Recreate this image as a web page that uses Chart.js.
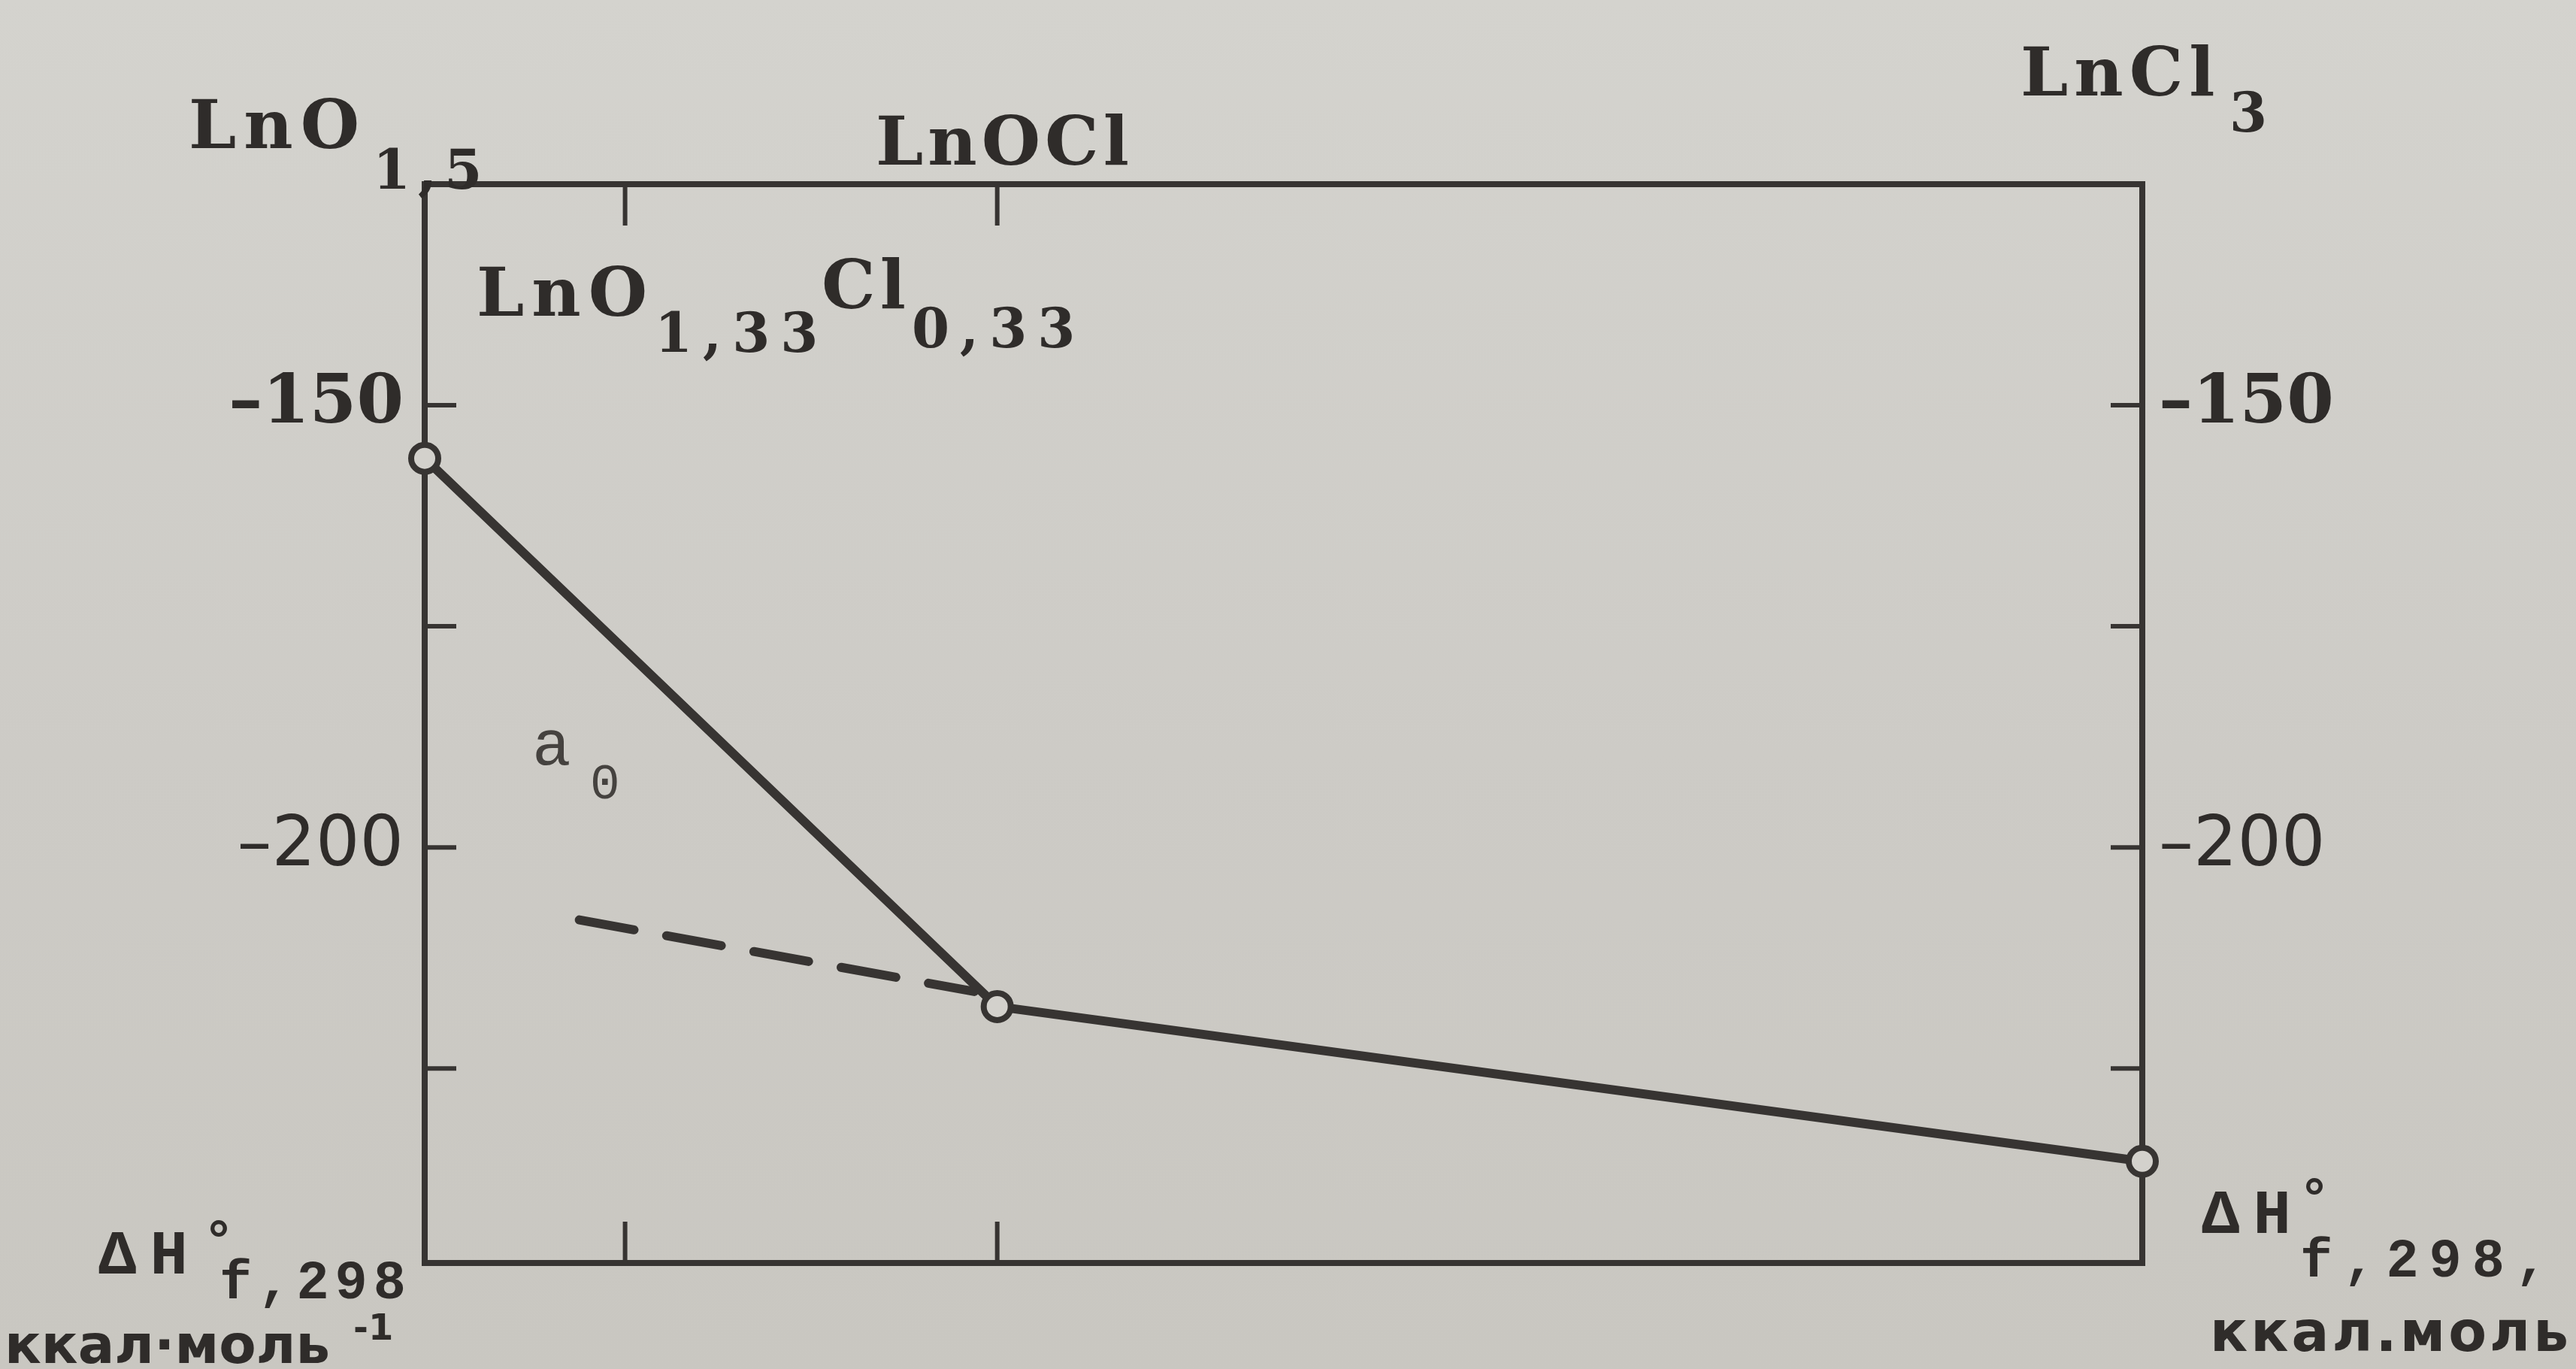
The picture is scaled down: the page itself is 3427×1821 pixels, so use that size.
<!DOCTYPE html>
<html>
<head>
<meta charset="utf-8">
<script src="https://cdn.jsdelivr.net/npm/chart.js@4.4.1/dist/chart.umd.min.js"></script>
<style>
  html, body { margin: 0; padding: 0; overflow: hidden; }
  body { background: linear-gradient(180deg, #d4d3ce 0%, #cdcbc6 55%, #c9c7c1 100%); }
  #wrap { width: 3427px; height: 1821px; position: relative; }
</style>
</head>
<body>
<div id="wrap"><canvas id="graph"></canvas></div>
<script>
// compositions along the LnO1,5 - LnCl3 section (x = Cl content per Ln)
const compositions = ['LnO1,5', 'LnOCl', 'LnCl3'];
const clContent = [0, 1, 3];
// enthalpy of formation, kcal/mol
const enthalpy = [-156, -218, -235.5];
// dashed extrapolation line
const dashX = [0.27, 0.96];
const dashY = [-208.2, -216.3];
// axis ticks
const yTicks = [-150, -175, -200, -225];
const yLabels = [-150, -200];
const xTicks = [0.35, 1];

const W = 3427, H = 1821;
const ink = '#373432';
const paper = '#d3d1cc';
const textInk = '#2f2c2a';

var mainData = clContent.map((x, i) => ({x: x, y: enthalpy[i]}));
var dashData = dashX.map((x, i) => ({x: x, y: dashY[i]}));

function tickFont(c) {
  if (c.tick && c.tick.value === -150) {
    return {family: 'DejaVu Serif', size: 90, weight: 'bold'};
  }
  return {family: 'DejaVu Sans', size: 92, weight: 'normal'};
}
function tickLabel(v) {
  return yLabels.includes(v) ? '\u2013' + Math.abs(v) : '';
}

// frame + inward tick marks
const framePlugin = {
  id: 'frame',
  beforeDatasetsDraw(chart) {
    const ctx = chart.ctx;
    const a = chart.chartArea;
    const s = chart.scales;
    ctx.save();
    ctx.strokeStyle = ink;
    ctx.lineWidth = 8;
    ctx.strokeRect(a.left, a.top, a.right - a.left, a.bottom - a.top);
    ctx.lineWidth = 6;
    ctx.beginPath();
    yTicks.forEach(v => {
      var py = s.y.getPixelForValue(v);
      ctx.moveTo(a.left, py); ctx.lineTo(a.left + 42, py);
      var py2 = s.y2.getPixelForValue(v);
      ctx.moveTo(a.right, py2); ctx.lineTo(a.right - 42, py2);
    });
    xTicks.forEach(v => {
      var px = s.x.getPixelForValue(v);
      ctx.moveTo(px, a.bottom); ctx.lineTo(px, a.bottom - 55);
      var px2 = s.x2.getPixelForValue(v);
      ctx.moveTo(px2, a.top); ctx.lineTo(px2, a.top + 55);
    });
    ctx.stroke();
    ctx.restore();
  }
};

// formula labels and axis titles
const serif = (w, size) => w + ' ' + size + 'px "DejaVu Serif"';
const mono = (w, size) => w + ' ' + size + 'px "Liberation Mono"';
const sans = (w, size) => w + ' ' + size + 'px "DejaVu Sans"';
const labels = [
  // LnO1,5
  {t: 'LnO', x: 251, y: 197, f: serif('bold', 90), ls: 10},
  {t: '1,5', x: 496, y: 251, f: serif('bold', 72), ls: 10},
  // LnOCl
  {t: 'LnOCl', x: 1165, y: 219, f: serif('bold', 90), ls: 6},
  // LnCl3
  {t: 'LnCl', x: 2688, y: 127, f: serif('bold', 90), ls: 8},
  {t: '3', x: 2966, y: 175, f: serif('bold', 72), ls: 0},
  // LnO1,33Cl0,33
  {t: 'LnO', x: 634, y: 420, f: serif('bold', 90), ls: 10},
  {t: '1,33', x: 871, y: 468, f: serif('bold', 72), ls: 14},
  {t: 'Cl', x: 1093, y: 410, f: serif('bold', 90), ls: 6},
  {t: '0,33', x: 1213, y: 462, f: serif('bold', 72), ls: 14},
  // a0
  {t: 'a', x: 708, y: 1017, f: mono('normal', 86), ls: 0, c: '#45423f'},
  {t: '0', x: 785, y: 1062, f: mono('normal', 66), ls: 0, c: '#45423f'},
  // left axis title
  {t: '\u0394H', x: 131, y: 1694, f: mono('bold', 84), ls: 18},
  {t: '\u00b0', x: 270, y: 1672, f: mono('bold', 70), ls: 0},
  {t: 'f,298', x: 292, y: 1727, f: mono('bold', 72), ls: 8},
  {t: '\u043a\u043a\u0430\u043b\u00b7\u043c\u043e\u043b\u044c', x: 6, y: 1813, f: sans('bold', 72), ls: 0},
  {t: '-1', x: 470, y: 1782, f: sans('bold', 48), ls: 0},
  // right axis title
  {t: '\u0394H', x: 2929, y: 1640, f: mono('bold', 84), ls: 18},
  {t: '\u00b0', x: 3058, y: 1616, f: mono('bold', 70), ls: 0},
  {t: 'f,298,', x: 3060, y: 1698, f: mono('bold', 72), ls: 14},
  {t: '\u043a\u043a\u0430\u043b.\u043c\u043e\u043b\u044c', x: 2940, y: 1797, f: sans('bold', 74), ls: 4}
];

const textPlugin = {
  id: 'texts',
  afterDraw(chart) {
    const ctx = chart.ctx;
    ctx.save();
    ctx.textBaseline = 'alphabetic';
    ctx.textAlign = 'left';
    labels.forEach(l => {
      ctx.font = l.f;
      ctx.letterSpacing = (l.ls || 0) + 'px';
      ctx.fillStyle = l.c || textInk;
      ctx.fillText(l.t, l.x, l.y);
    });
    ctx.restore();
  }
};

function fixedHeight(h) { return s => { s.height = h; }; }
function fixedWidth(w) { return s => { s.width = w; }; }
function setYTicks(s) { s.ticks = yTicks.map(v => ({value: v})); }

const hidden = {display: false, drawTicks: false};

var chart = new Chart(document.getElementById('graph'), {
  type: 'scatter',
  data: {
    datasets: [{
      label: compositions.join(' - '),
      data: mainData,
      showLine: true,
      borderColor: ink,
      borderWidth: 12,
      pointRadius: 18,
      pointBorderWidth: 8,
      pointBackgroundColor: paper,
      pointBorderColor: ink,
      clip: false
    }, {
      label: 'extrapolation',
      data: dashData,
      showLine: true,
      borderColor: ink,
      borderWidth: 12,
      borderDash: [74, 44],
      borderCapStyle: 'round',
      pointRadius: 0
    }]
  },
  options: {
    responsive: true,
    maintainAspectRatio: false,
    animation: false,
    layout: {padding: 0},
    plugins: {legend: {display: false}, tooltip: {enabled: false}},
    scales: {
      x: {
        type: 'linear', position: 'bottom', min: 0, max: 3,
        grid: hidden, border: {display: false}, ticks: {display: false},
        afterFit: fixedHeight(H - 1680)
      },
      x2: {
        type: 'linear', position: 'top', min: 0, max: 3,
        grid: hidden, border: {display: false}, ticks: {display: false},
        afterFit: fixedHeight(245)
      },
      y: {
        type: 'linear', position: 'left', min: -247, max: -125,
        grid: hidden, border: {display: false},
        afterBuildTicks: setYTicks,
        ticks: {callback: tickLabel, font: tickFont, color: textInk, padding: 28, autoSkip: false},
        afterFit: fixedWidth(565)
      },
      y2: {
        type: 'linear', position: 'right', min: -247, max: -125,
        grid: hidden, border: {display: false},
        afterBuildTicks: setYTicks,
        ticks: {callback: tickLabel, font: tickFont, color: textInk, padding: 22, autoSkip: false},
        afterFit: fixedWidth(W - 2850)
      }
    }
  },
  plugins: [framePlugin, textPlugin]
});
</script>
</body>
</html>
